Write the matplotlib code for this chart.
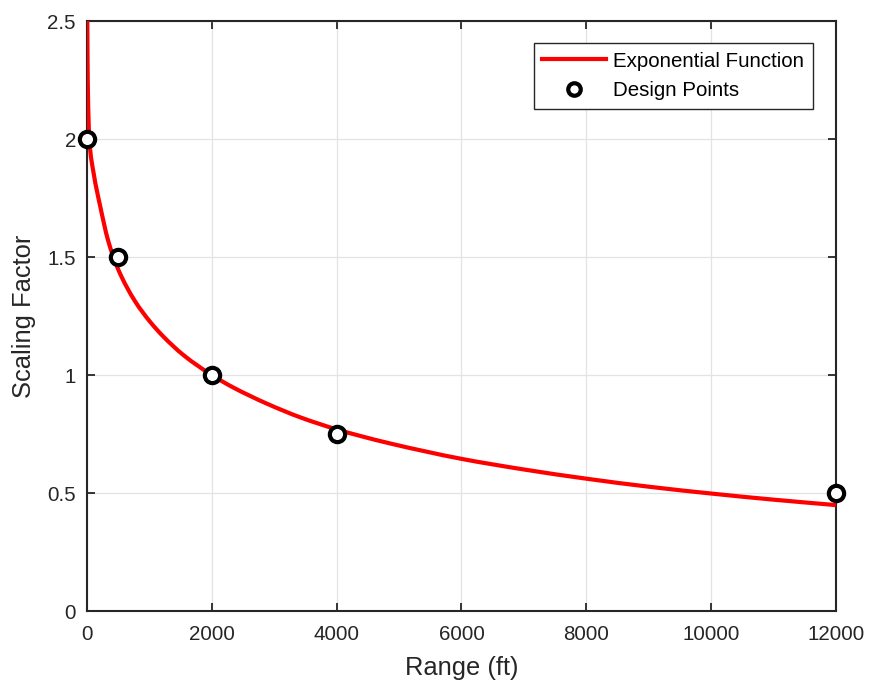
import matplotlib
matplotlib.use("Agg")
import matplotlib.pyplot as plt
import numpy as np
from matplotlib.path import Path
from matplotlib.patches import PathPatch
from matplotlib.lines import Line2D

# Fitted scaling curve, sampled along the range
curve_range = [4, 12, 37, 107, 214, 337, 497, 770, 1011, 1225, 1545, 2000,
               2347, 2882, 3417, 4000, 4380, 4861, 6000, 7000, 8000, 9000,
               10000, 11000, 12000]
curve_factor = [2.53, 2.25, 2.0, 1.855, 1.713, 1.572, 1.45, 1.313, 1.226,
                1.163, 1.085, 1.0, 0.947, 0.879, 0.821, 0.770, 0.742, 0.710,
                0.645, 0.600, 0.561, 0.527, 0.498, 0.472, 0.449]

# Design points
design_range = [0, 500, 2000, 4000, 12000]
design_factor = [2.0, 1.5, 1.0, 0.75, 0.5]

x_ticks = [0, 2000, 4000, 6000, 8000, 10000, 12000]
y_ticks = [0, 0.5, 1, 1.5, 2, 2.5]
y_tick_labels = ["0", "0.5", "1", "1.5", "2", "2.5"]

ink = "#262626"
curve_color = "#ff0000"
plt.rcParams["font.family"] = ["Liberation Sans", "DejaVu Sans"]


def smooth_path(xs, ys):
    """Cubic Bezier path through the samples with monotone Hermite tangents."""
    x = np.asarray(xs, float)
    y = np.asarray(ys, float)
    h = np.diff(x)
    d = np.diff(y) / h
    m = np.empty_like(x)
    m[0], m[-1] = d[0], d[-1]
    for i in range(1, len(x) - 1):
        if d[i - 1] * d[i] <= 0:
            m[i] = 0.0
        else:
            w1 = 2 * h[i] + h[i - 1]
            w2 = h[i] + 2 * h[i - 1]
            m[i] = (w1 + w2) / (w1 / d[i - 1] + w2 / d[i])
    verts = [(x[0], y[0])]
    codes = [Path.MOVETO]
    for i in range(len(x) - 1):
        verts += [(x[i] + h[i] / 3, y[i] + m[i] * h[i] / 3),
                  (x[i + 1] - h[i] / 3, y[i + 1] - m[i + 1] * h[i] / 3),
                  (x[i + 1], y[i + 1])]
        codes += [Path.CURVE4] * 3
    return Path(verts, codes)


fig = plt.figure(figsize=(8.69, 6.85), dpi=100)
ax = fig.add_axes([0.1001, 0.108, 0.8619, 0.861])

curve = PathPatch(smooth_path(curve_range, curve_factor), facecolor="none",
                  edgecolor=curve_color, linewidth=3.0, joinstyle="round",
                  capstyle="butt", zorder=3)
ax.add_patch(curve)
ax.plot(design_range, design_factor, linestyle="none", marker="o",
        markersize=11, markerfacecolor="white", markeredgecolor="black",
        markeredgewidth=3.0, clip_on=False, zorder=4)

ax.set_xlim(0, 12000)
ax.set_ylim(0, 2.5)
ax.set_xticks(x_ticks)
ax.set_xticklabels([str(t) for t in x_ticks])
ax.set_yticks(y_ticks)
ax.set_yticklabels(y_tick_labels)

ax.grid(True, color="#e3e3e3", linewidth=0.9)
ax.set_axisbelow(True)

for side in ax.spines.values():
    side.set_color(ink)
    side.set_linewidth(1.5)

ax.tick_params(axis="both", which="major", direction="in", length=6,
               width=1.3, color=ink, labelcolor=ink, labelsize=14.8,
               top=True, right=True)
ax.tick_params(axis="x", pad=10)
ax.tick_params(axis="y", pad=8)

ax.set_xlabel("Range (ft)", fontsize=18.4, color=ink, labelpad=9)
ax.set_ylabel("Scaling Factor", fontsize=18.4, color=ink, labelpad=8)

handles = [
    Line2D([], [], color=curve_color, linewidth=3.0),
    Line2D([], [], linestyle="none", marker="o", markersize=9,
           markerfacecolor="white", markeredgecolor="black",
           markeredgewidth=3.0),
]
leg = ax.legend(handles, ["Exponential Function", "Design Points"],
                loc="upper right", bbox_to_anchor=(0.969, 0.963),
                borderaxespad=0, fontsize=14.8, frameon=True, fancybox=False,
                framealpha=1, edgecolor=ink, handlelength=3.1,
                handletextpad=0.35, borderpad=0.42, labelspacing=0.5)
leg.get_frame().set_linewidth(1.0)
for txt in leg.get_texts():
    txt.set_color("black")

fig.savefig("out.png", dpi=100)
